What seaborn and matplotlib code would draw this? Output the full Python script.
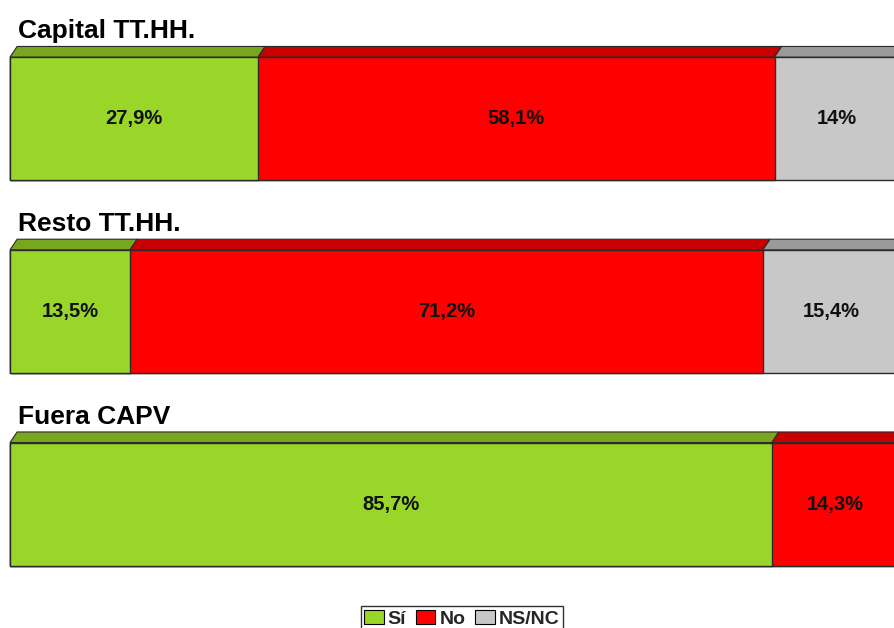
import pandas as pd
import seaborn as sns
import matplotlib.pyplot as plt
from matplotlib.patches import Polygon, Patch

'''
DATA
'''
groups = ['Capital TT.HH.', 'Resto TT.HH.', 'Fuera CAPV']
si = [27.9, 13.5, 85.7]
no = [58.1, 71.2, 14.3]
nsnc = [14.0, 15.4, 0.0]
series_names = ['Sí', 'No', 'NS/NC']

front_colors = ['#9ad62a', '#ff0000', '#c8c8c8']
top_colors = ['#78a61e', '#c80000', '#9a9a9a']

sns.set_style('white')
plt.rcParams['font.family'] = ['Liberation Sans', 'DejaVu Sans']

df = pd.DataFrame({'group': groups, 'si': si, 'no': no, 'nsnc': nsnc})
df['cum_no'] = df['si'] + df['no']
df['cum_all'] = df['cum_no'] + df['nsnc']

fig = plt.figure(figsize=(8.95, 6.28), dpi=100)
ax = fig.add_axes([0, 0, 1, 1])

bar_w = 0.638
# stacked bars: draw the cumulative totals, largest first
for col, c in zip(['cum_all', 'cum_no', 'si'], front_colors[::-1]):
    sns.barplot(data=df, x=col, y='group', orient='h', color=c, saturation=1,
                width=bar_w, edgecolor='#2a2a2a', linewidth=1.0, ax=ax)

ax.set_xlim(-1.125, 99.55)
ax.set_ylim(2.643, -0.615)
ax.set_axis_off()

# 3D-ish top faces + value labels
dx, dy = 0.8, 0.055
for i, row in df.iterrows():
    starts = [0, row['si'], row['cum_no']]
    vals = [row['si'], row['no'], row['nsnc']]
    yt = i - bar_w / 2
    for s, v, tc in zip(starts, vals, top_colors):
        if v <= 0:
            continue
        poly = Polygon([(s, yt), (s + v, yt), (s + v + dx, yt - dy), (s + dx, yt - dy)],
                       closed=True, facecolor=tc, edgecolor='#2a2a2a', linewidth=0.8)
        ax.add_patch(poly)
        lab = ('%g' % v).replace('.', ',') + '%'
        ax.text(s + v / 2, i, lab, ha='center', va='center', fontsize=14.5,
                fontweight='bold', color='#111111')
    ax.text(0.9, i - 0.454, row['group'], ha='left', va='center', fontsize=19,
            fontweight='bold', color='black')

handles = [Patch(facecolor=c, edgecolor='black', linewidth=0.8) for c in front_colors]
leg = fig.legend(handles, series_names, loc='upper center', bbox_to_anchor=(0.516, 1 - 596 / 628),
                 ncol=3, frameon=True, fancybox=False, edgecolor='black',
                 handlelength=1.0, handleheight=0.8, handletextpad=0.2, columnspacing=0.5,
                 borderpad=0.2, prop={'weight': 'bold', 'size': 14})
leg.get_frame().set_linewidth(1.0)

fig.savefig('out.png', dpi=100)
